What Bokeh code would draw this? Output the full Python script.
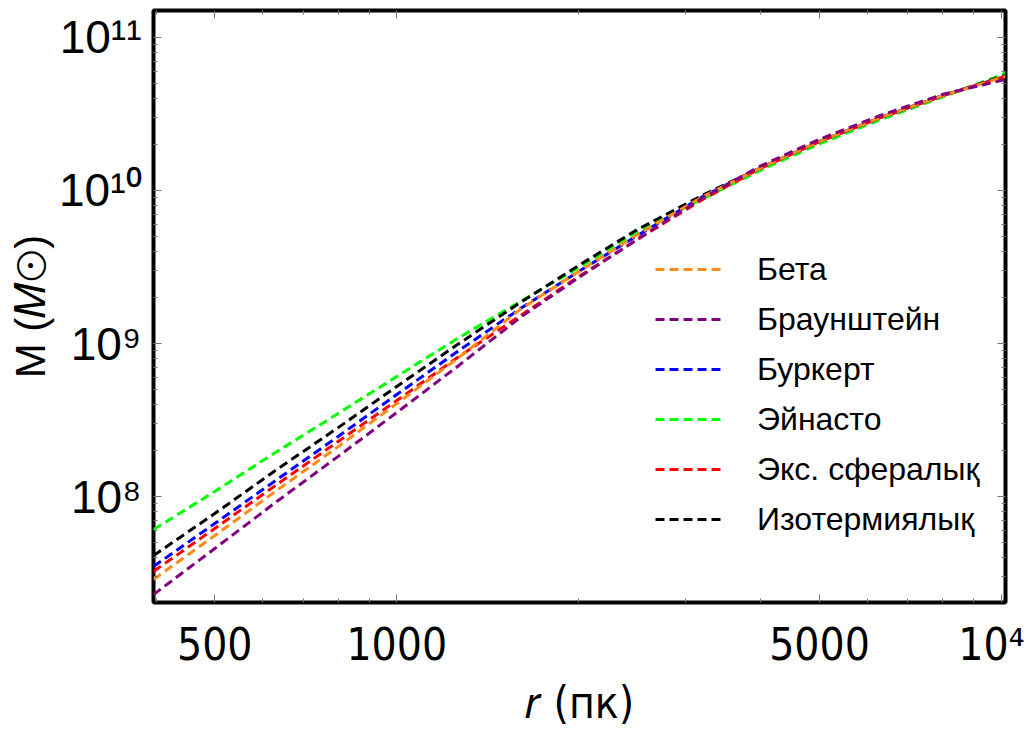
from bokeh.plotting import figure
from bokeh.models import (Range1d, FixedTicker, LogAxis,
                          Legend, LegendItem, CustomJSTickFormatter)
from bokeh.embed import file_html
from bokeh.resources import INLINE

# ---- data ----
r_pc = [396, 500, 630, 800, 1000, 1260, 1600, 2000, 2500, 3200, 4000, 5000, 6300, 8000, 10150]
m_beta = [2.87e7, 5.56e7, 1.08e8, 2.12e8, 4.05e8, 7.98e8, 1.67e9, 2.96e9, 5.15e9, 9.08e9, 1.41e10, 2.09e10, 2.99e10, 4.17e10, 5.57e10]
m_braun = [2.29e7, 4.57e7, 9.14e7, 1.83e8, 3.54e8, 7.08e8, 1.48e9, 2.70e9, 4.79e9, 8.91e9, 1.45e10, 2.16e10, 3.09e10, 4.25e10, 5.31e10]
m_burk = [3.49e7, 6.66e7, 1.27e8, 2.47e8, 4.64e8, 8.87e8, 1.69e9, 2.96e9, 5.08e9, 9.08e9, 1.41e10, 2.09e10, 2.99e10, 4.17e10, 5.57e10]
m_einasto = [6.08e7, 1.08e8, 1.94e8, 3.49e8, 6.09e8, 1.08e9, 1.88e9, 3.14e9, 5.40e9, 8.81e9, 1.36e10, 2.02e10, 2.90e10, 4.09e10, 5.82e10]
m_exp = [3.24e7, 6.18e7, 1.18e8, 2.29e8, 4.24e8, 8.10e8, 1.52e9, 2.74e9, 4.79e9, 8.71e9, 1.40e10, 2.09e10, 2.99e10, 4.17e10, 5.57e10]
m_iso = [4.11e7, 7.74e7, 1.48e8, 2.82e8, 5.24e8, 9.85e8, 1.85e9, 3.24e9, 5.56e9, 9.29e9, 1.41e10, 2.09e10, 2.99e10, 4.17e10, 5.65e10]

series_names = ["Бета", "Браунштейн", "Буркерт", "Эйнасто", "Экс. сфералық", "Изотермиялық"]
series_values = [m_beta, m_braun, m_burk, m_einasto, m_exp, m_iso]
series_colors = ["#ff8c1a", "#800080", "#0000ff", "#00ff00", "#ff0000", "#000000"]

x_major = [500, 1000, 5000, 10000]
x_minor = [400, 600, 700, 800, 900, 2000, 3000, 4000, 6000, 7000, 8000, 9000]
x_labels = {500: "500", 1000: "1000", 5000: "5000", 10000: "10⁴"}
y_major = [1e8, 1e9, 1e10, 1e11]
y_minor = [k * 10.0 ** e for e in (7, 8, 9, 10) for k in range(2, 10)]
y_labels = {1e8: "10⁸", 1e9: "10⁹", 1e10: "10¹⁰", 1e11: "10¹¹"}

x_title = "𝑟 (пк)"
y_title = "M (𝑀⊙)"

p = figure(width=1024, height=730, x_axis_type="log", y_axis_type="log",
           x_range=Range1d(396, 10150), y_range=Range1d(2.03e7, 1.5e11),
           output_backend="svg", toolbar_location=None,
           min_border_left=153, min_border_right=19, min_border_top=10, min_border_bottom=127)
p.background_fill_color = "white"
p.border_fill_color = "white"
p.outline_line_color = "black"
p.outline_line_width = 4
p.xgrid.visible = False
p.ygrid.visible = False

# draw order: green, black, blue, red, orange, purple on top
draw_order = [3, 5, 2, 4, 0, 1]
renderers = {}
for i in draw_order:
    renderers[i] = p.line(r_pc, series_values[i], line_color=series_colors[i],
                          line_width=3, line_dash="9 5")

narrow = "DejaVu Sans Condensed"

# axes
xa = p.xaxis[0]
xa.ticker = FixedTicker(ticks=x_major, minor_ticks=x_minor)
xa.major_label_overrides = x_labels
xa.major_label_text_font = narrow
xa.major_label_text_font_size = "44px"
xa.major_label_text_color = "black"
xa.major_label_standoff = 16
xa.axis_label = x_title
xa.axis_label_text_font = narrow
xa.axis_label_text_font_style = "normal"
xa.axis_label_text_font_size = "44px"
xa.axis_label_text_color = "black"
xa.axis_label_standoff = 4

ya = p.yaxis[0]
ya.ticker = FixedTicker(ticks=y_major, minor_ticks=y_minor)
ya.major_label_overrides = y_labels
ya.major_label_text_font = "Liberation Sans"
ya.major_label_text_font_size = "46px"
ya.major_label_text_color = "black"
ya.major_label_standoff = 12
ya.axis_label = y_title
ya.axis_label_text_font = "Liberation Sans"
ya.axis_label_text_font_style = "normal"
ya.axis_label_text_font_size = "42px"
ya.axis_label_text_color = "black"
ya.axis_label_standoff = 2

for ax in (xa, ya):
    ax.axis_line_color = None
    ax.major_tick_in = 8
    ax.major_tick_out = 0
    ax.minor_tick_in = 4
    ax.minor_tick_out = 0
    ax.major_tick_line_color = "#777777"
    ax.minor_tick_line_color = "#777777"

blank = CustomJSTickFormatter(code="return ''")
ra = LogAxis(ticker=FixedTicker(ticks=y_major, minor_ticks=y_minor), formatter=blank,
             axis_line_color=None, major_tick_in=8, major_tick_out=0, minor_tick_in=4,
             minor_tick_out=0, major_tick_line_color="#777777", minor_tick_line_color="#777777",
             major_label_standoff=0)
ta = LogAxis(ticker=FixedTicker(ticks=x_major, minor_ticks=x_minor), formatter=blank,
             axis_line_color=None, major_tick_in=8, major_tick_out=0, minor_tick_in=4,
             minor_tick_out=0, major_tick_line_color="#777777", minor_tick_line_color="#777777",
             major_label_standoff=0)
p.add_layout(ra, "right")
p.add_layout(ta, "above")

# legend
items = [LegendItem(label=series_names[i], renderers=[renderers[i]]) for i in range(6)]
legend = Legend(items=items, location=(502, 58), glyph_width=70, glyph_height=50,
                label_height=50, spacing=0, padding=0, margin=0, label_standoff=32,
                label_text_font="Liberation Sans", label_text_font_size="32px",
                label_text_color="black", border_line_alpha=0, background_fill_alpha=0)
p.add_layout(legend)

open("out.html", "w").write(file_html(p, INLINE))
